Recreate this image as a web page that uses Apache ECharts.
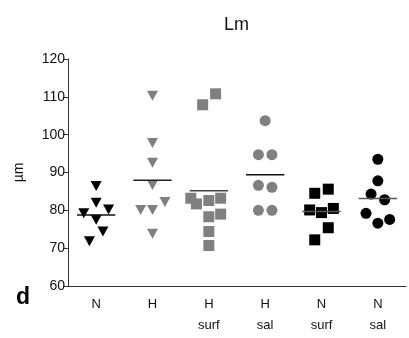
<!DOCTYPE html>
<html>
<head>
<meta charset="utf-8">
<script src="https://cdn.jsdelivr.net/npm/echarts@6/dist/echarts.min.js"></script>
<style>
  html, body { margin: 0; padding: 0; background: #fff; }
  #chart { width: 409px; height: 338px; }
</style>
</head>
<body>
<div id="chart"></div>
<script>
// groups along the x axis
const categories = ['N', 'H', 'H\nsurf', 'H\nsal', 'N\nsurf', 'N\nsal'];
const yTicks = [60, 70, 80, 90, 100, 110, 120];

// values in µm
const nVals      = [86.4, 82.0, 79.2, 80.2, 77.5, 74.4, 71.8];
const hVals      = [110.3, 97.8, 92.6, 86.7, 80.1, 80.1, 82.2, 73.8];
const hSurfVals  = [107.9, 110.8, 83.2, 81.7, 82.6, 83.2, 78.3, 79.0, 74.4, 70.7];
const hSalVals   = [103.7, 94.7, 94.7, 86.6, 86.1, 80.0, 80.0];
const nSurfVals  = [84.5, 85.6, 80.1, 79.4, 80.5, 75.4, 72.2];
const nSalVals   = [93.5, 87.8, 84.3, 82.8, 79.2, 76.6, 77.6];

// horizontal scatter of each point (in category widths), as plotted
const nJit     = [0, 0, -0.22, 0.22, 0, 0.12, -0.12];
const hJit     = [0, 0, 0, 0, -0.21, 0, 0.22, 0];
const hSurfJit = [-0.11, 0.12, -0.32, -0.22, 0, 0.21, 0, 0.21, 0, 0];
const hSalJit  = [0, -0.12, 0.12, -0.12, 0.12, -0.12, 0.12];
const nSurfJit = [-0.12, 0.12, -0.21, 0, 0.21, 0.12, -0.12];
const nSalJit  = [0, 0, -0.12, 0.12, -0.21, 0, 0.21];

const groups = [
  { vals: nVals,     jit: nJit,     symbol: 'triangle', rot: 180, color: '#000',    size: [11, 10], line: '#111' },
  { vals: hVals,     jit: hJit,     symbol: 'triangle', rot: 180, color: '#808080', size: [11, 10], line: '#222' },
  { vals: hSurfVals, jit: hSurfJit, symbol: 'rect',     rot: 0,   color: '#808080', size: [11, 11], line: '#444' },
  { vals: hSalVals,  jit: hSalJit,  symbol: 'circle',   rot: 0,   color: '#808080', size: 11,       line: '#111' },
  { vals: nSurfVals, jit: nSurfJit, symbol: 'rect',     rot: 0,   color: '#000',    size: [11, 11], line: '#555' },
  { vals: nSalVals,  jit: nSalJit,  symbol: 'circle',   rot: 0,   color: '#000',    size: 11,       line: '#555' }
];

const mean = (a) => a.reduce((s, v) => s + v, 0) / a.length;

const series = [];
groups.forEach((g, i) => {
  const xc = i + 1;
  series.push({
    type: 'scatter',
    xAxisIndex: 1,
    symbol: g.symbol,
    symbolRotate: g.rot,
    symbolSize: g.size,
    itemStyle: { color: g.color, opacity: 1 },
    data: g.vals.map((v, k) => [xc + g.jit[k], v]),
    z: 3
  });
  const m = mean(g.vals);
  series.push({
    type: 'line',
    xAxisIndex: 1,
    symbol: 'none',
    lineStyle: { color: g.line, width: 1.5 },
    data: [[xc - 0.34, m], [xc + 0.34, m]],
    z: 4
  });
});

const chart = echarts.init(document.getElementById('chart'));

chart.setOption({
  animation: false,
  textStyle: { fontFamily: 'Liberation Sans, Arial, sans-serif' },
  title: {
    text: 'Lm',
    left: 219,
    top: 11,
    textStyle: { fontSize: 18, fontWeight: 'normal', color: '#111' }
  },
  graphic: [
    {
      type: 'text',
      left: 16,
      top: 286,
      style: { text: 'd', font: 'bold 23px Liberation Sans, Arial, sans-serif', fill: '#000' }
    }
  ],
  grid: { left: 68, right: 3, top: 59, bottom: 52 },
  xAxis: [
    {
      type: 'category',
      data: categories,
      boundaryGap: true,
      axisLine: { lineStyle: { color: '#333', width: 1 } },
      axisTick: { alignWithLabel: true, length: 5, lineStyle: { color: '#333' } },
      axisLabel: { color: '#111', fontSize: 13, lineHeight: 21, margin: 8 }
    },
    {
      type: 'value',
      min: 0.5,
      max: 6.5,
      show: false
    }
  ],
  yAxis: {
    type: 'value',
    name: 'µm',
    nameLocation: 'middle',
    nameGap: 42,
    nameRotate: 90,
    nameTextStyle: { fontSize: 14, color: '#111' },
    min: yTicks[0],
    max: yTicks[yTicks.length - 1],
    interval: 10,
    axisLine: { show: true, lineStyle: { color: '#333', width: 1 } },
    axisTick: { show: true, length: 5, lineStyle: { color: '#333' } },
    axisLabel: { color: '#111', fontSize: 14, margin: 3 },
    splitLine: { show: false }
  },
  series: series
});
</script>
</body>
</html>
